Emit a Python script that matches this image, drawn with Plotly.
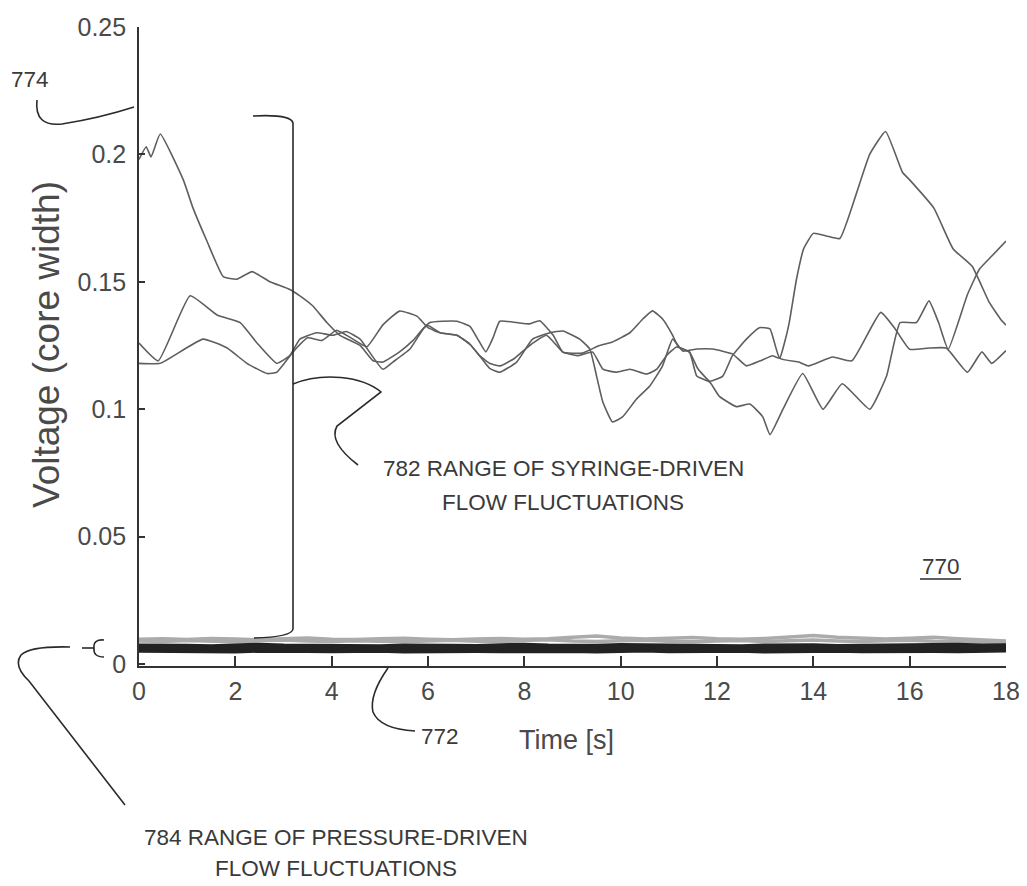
import plotly.graph_objects as go

# ---------------- data ----------------
# syringe-driven flow, three runs (time s, voltage)
a_t = [0, 0.15, 0.25, 0.44, 0.92, 1.12, 1.41, 1.75, 2.03, 2.35, 2.72, 3.13, 3.34, 3.61, 3.9, 4.17, 4.59, 4.86, 5.06,
       5.41, 5.69, 5.98, 6.25, 6.6, 6.87, 7.07, 7.28, 7.49, 7.84, 8.17, 8.53, 8.8, 9.15, 9.36, 9.5, 9.63, 9.83, 10.04,
       10.33, 10.6, 10.87, 11.08, 11.29, 11.58, 11.91, 12.32, 12.61, 12.9, 13.15, 13.3, 13.4, 13.5, 13.65, 13.8, 14.0,
       14.27, 14.55, 14.9, 15.17, 15.5, 15.85, 16.0, 16.5, 16.9, 17.3, 17.65, 17.9, 18.0]
a_v = [0.198, 0.203, 0.199, 0.208, 0.190, 0.179, 0.166, 0.152, 0.151, 0.154, 0.150, 0.147, 0.1445, 0.1405, 0.134,
       0.129, 0.125, 0.119, 0.1185, 0.1225, 0.127, 0.133, 0.130, 0.129, 0.1255, 0.121, 0.116, 0.1145, 0.1185, 0.1275,
       0.130, 0.1307, 0.1275, 0.1236, 0.113, 0.1028, 0.095, 0.097, 0.104, 0.109, 0.117, 0.1275, 0.1228, 0.1236,
       0.1236, 0.1217, 0.117, 0.119, 0.121, 0.120, 0.126, 0.134, 0.151, 0.163, 0.169, 0.168, 0.167, 0.185, 0.200,
       0.209, 0.193, 0.190, 0.179, 0.163, 0.156, 0.142, 0.135, 0.133]

b_t = [0, 0.4, 1.06, 1.62, 2.1, 2.45, 2.86, 3.13, 3.34, 3.69, 4.03, 4.3, 4.59, 5.06, 5.27, 5.62, 5.9, 6.04, 6.3, 6.6,
       6.87, 7.05, 7.2, 7.35, 7.49, 7.84, 8.11, 8.32, 8.6, 8.8, 9.2, 9.56, 9.83, 10.19, 10.46, 10.66, 10.87, 11.08,
       11.2, 11.43, 11.6, 11.85, 12.12, 12.32, 12.61, 12.88, 13.1, 13.3, 13.7, 13.9, 14.4, 14.8, 15.4, 15.7, 16.0,
       16.4, 16.76, 17.2, 17.5, 17.7, 18.0]
b_v = [0.126, 0.119, 0.1445, 0.137, 0.134, 0.126, 0.118, 0.121, 0.1275, 0.130, 0.129, 0.1305, 0.1275, 0.1157,
       0.1185, 0.1235, 0.1315, 0.134, 0.1345, 0.1345, 0.1325, 0.127, 0.1225, 0.128, 0.1345, 0.134, 0.1335, 0.1347,
       0.129, 0.1224, 0.122, 0.125, 0.1264, 0.130, 0.1354, 0.1386, 0.1354, 0.129, 0.1244, 0.1224, 0.116, 0.111,
       0.113, 0.121, 0.1275, 0.132, 0.1315, 0.120, 0.1185, 0.117, 0.1205, 0.119, 0.138, 0.1315, 0.1235, 0.124,
       0.124, 0.1145, 0.1225, 0.118, 0.123]

c_t = [0, 0.44, 1.33, 1.83, 2.24, 2.66, 2.86, 3.2, 3.5, 3.8, 4.1, 4.4, 4.73, 5.06, 5.41, 5.77, 6.0, 6.25, 6.6, 6.87,
       7.07, 7.28, 7.5, 7.8, 8.11, 8.46, 8.8, 9.1, 9.42, 9.63, 9.91, 10.19, 10.54, 10.75, 10.95, 11.16, 11.43, 11.58,
       11.85, 12.05, 12.4, 12.68, 12.95, 13.1, 13.37, 13.78, 14.2, 14.6, 15.17, 15.52, 15.8, 16.14, 16.4, 16.6, 16.8,
       17.2, 17.45, 17.7, 18.0]
c_v = [0.118, 0.118, 0.1275, 0.124, 0.118, 0.114, 0.1145, 0.1225, 0.128, 0.127, 0.131, 0.128, 0.1245, 0.133,
       0.1385, 0.1365, 0.132, 0.130, 0.129, 0.1255, 0.121, 0.118, 0.117, 0.120, 0.125, 0.129, 0.1224, 0.121, 0.1224,
       0.1157, 0.1145, 0.1157, 0.1138, 0.1157, 0.121, 0.1244, 0.1224, 0.113, 0.1106, 0.105, 0.101, 0.102, 0.097,
       0.090, 0.100, 0.114, 0.100, 0.110, 0.100, 0.113, 0.134, 0.134, 0.1425, 0.134, 0.1235, 0.145, 0.155, 0.160,
       0.166]

# pressure-driven flow runs
p_t = [0, 0.5, 1, 1.5, 2, 2.5, 3, 3.5, 4, 4.5, 5, 5.5, 6, 6.5, 7, 7.5, 8, 8.5, 9, 9.5, 10, 10.5, 11, 11.5, 12, 12.5,
       13, 13.5, 14, 14.5, 15, 15.5, 16, 16.5, 17, 17.5, 18]
p_dark1 = [0.0056, 0.0054, 0.0057, 0.0055, 0.0053, 0.0056, 0.0058, 0.0055, 0.0054, 0.0057, 0.0056, 0.0053, 0.0055,
           0.0057, 0.0055, 0.0054, 0.0056, 0.0058, 0.0055, 0.0053, 0.0056, 0.0057, 0.0054, 0.0055, 0.0057, 0.0056,
           0.0053, 0.0055, 0.0058, 0.0056, 0.0054, 0.0056, 0.0057, 0.0055, 0.0054, 0.0056, 0.0057]
p_dark2 = [0.0069, 0.0071, 0.0068, 0.0066, 0.0070, 0.0072, 0.0069, 0.0067, 0.0070, 0.0068, 0.0066, 0.0069, 0.0071,
           0.0068, 0.0067, 0.0070, 0.0072, 0.0069, 0.0066, 0.0068, 0.0071, 0.0069, 0.0067, 0.0070, 0.0068, 0.0066,
           0.0069, 0.0072, 0.0070, 0.0067, 0.0069, 0.0071, 0.0068, 0.0070, 0.0072, 0.0069, 0.0070]
p_light1 = [0.0090, 0.0088, 0.0092, 0.0089, 0.0087, 0.0091, 0.0094, 0.0090, 0.0088, 0.0091, 0.0089, 0.0087, 0.0090,
            0.0093, 0.0089, 0.0088, 0.0092, 0.0095, 0.0090, 0.0088, 0.0091, 0.0093, 0.0089, 0.0087, 0.0090, 0.0092,
            0.0088, 0.0091, 0.0094, 0.0090, 0.0088, 0.0091, 0.0093, 0.0089, 0.0087, 0.0086, 0.0085]
p_light2 = [0.0097, 0.0099, 0.0096, 0.0100, 0.0098, 0.0095, 0.0099, 0.0102, 0.0097, 0.0096, 0.0099, 0.0101, 0.0097,
            0.0095, 0.0098, 0.0100, 0.0097, 0.0099, 0.0105, 0.0110, 0.0102, 0.0098, 0.0101, 0.0104, 0.0099, 0.0097,
            0.0100, 0.0106, 0.0112, 0.0105, 0.0100, 0.0098, 0.0101, 0.0105, 0.0099, 0.0094, 0.0090]

x_ticks = [0, 2, 4, 6, 8, 10, 12, 14, 16, 18]
y_ticks = [0, 0.05, 0.1, 0.15, 0.2, 0.25]
y_ticktext = ["0", "0.05", "0.1", "0.15", "0.2", "0.25"]

# ---------------- layout helpers ----------------
OFF = 8                       # page body margin in the browser
W, H = 1027 - OFF, 886 - OFF  # figure size
# screen-pixel plot area: x 139..1006, y 27..666
L, R, T, B = 139 - OFF, 1027 - 1006, 27 - OFF, 886 - 666
PW, PH = W - L - R, H - T - B
FONT = "Liberation Sans, Arial, sans-serif"


def fx(x):  # screen px -> paper
    return (x - OFF - L) / PW


def fy(y):
    return (H - B - (y - OFF)) / PH


def path(*segs):
    out = []
    for s in segs:
        cmd, pts = s[0], s[1:]
        out.append(cmd + " " + " ".join(f"{fx(p[0]):.5f},{fy(p[1]):.5f}" for p in pts))
    return " ".join(out)


fig = go.Figure()

for yv in (p_light2, p_light1):
    fig.add_trace(go.Scatter(x=p_t, y=yv, mode="lines", line=dict(color="#ababab", width=3.5),
                             showlegend=False, hoverinfo="skip"))
for yv in (p_dark1, p_dark2):
    fig.add_trace(go.Scatter(x=p_t, y=yv, mode="lines", line=dict(color="#222222", width=6),
                             showlegend=False, hoverinfo="skip"))

for tt, vv in ((a_t, a_v), (b_t, b_v), (c_t, c_v)):
    fig.add_trace(go.Scatter(x=tt, y=vv, mode="lines", line=dict(color="#5e5e5e", width=1.6, shape="spline",
                                                                   smoothing=0.4),
                             showlegend=False, hoverinfo="skip"))

line_style = dict(color="#2a2a2a", width=1.6)
shapes = [
    # 774 bracket
    dict(type="path", path=path(("M", (253, 116)), ("Q", (291, 114), (293, 123)), ("L", (293, 629)),
                                ("Q", (292, 637), (254, 638)))),
    # 774 leader
    dict(type="path", path=path(("M", (37, 100)), ("Q", (34, 127), (62, 124)), ("Q", (100, 118), (134, 107)))),
    # 782 leader
    dict(type="path", path=path(("M", (293, 384)), ("C", (322, 372), (362, 376), (381, 392)),
                                ("L", (337, 426)), ("Q", (328, 442), (358, 465)))),
    # pressure range brace
    dict(type="path", path=path(("M", (104, 640)), ("Q", (93, 639), (94, 648)), ("Q", (93, 657), (104, 657)))),
    dict(type="path", path=path(("M", (82, 648)), ("L", (94, 648)))),
    # 784 leader
    dict(type="path", path=path(("M", (70, 647)), ("Q", (30, 646), (21, 655)), ("Q", (13, 666), (29, 681)),
                                ("L", (125, 805)))),
    # 772 leader
    dict(type="path", path=path(("M", (388, 668)), ("Q", (369, 695), (373, 712)), ("Q", (380, 729), (415, 731)))),
    # 770 underline
    dict(type="path", path=path(("M", (920, 579)), ("L", (961, 579)))),
]
for s in shapes:
    s.update(xref="paper", yref="paper", line=line_style, layer="above")

txt = dict(color="#3a3a3a", family=FONT, size=22.5)


def ann(text, x, y, xanchor="center", font=None, angle=0):
    return dict(text=text, x=fx(x), y=fy(y), xref="paper", yref="paper", showarrow=False,
                xanchor=xanchor, yanchor="middle", font=font or txt, textangle=angle)


annotations = [
    ann("774", 30, 80),
    ann("782 RANGE OF SYRINGE-DRIVEN", 563, 468),
    ann("FLOW FLUCTUATIONS", 563, 502),
    ann("770", 941, 566),
    ann("772", 440, 736),
    ann("784 RANGE OF PRESSURE-DRIVEN", 336, 838),
    ann("FLOW FLUCTUATIONS", 336, 868),
    ann("Time [s]", 566, 740, font=dict(color="#4a4a4a", family=FONT, size=27)),
    ann("Voltage (core width)", 46, 345, font=dict(color="#4a4a4a", family=FONT, size=37), angle=-90),
]

tickfont = dict(color="#4a4a4a", family=FONT, size=25)
fig.update_layout(
    width=W, height=H,
    margin=dict(l=L, r=R, t=T, b=B, pad=0, autoexpand=False),
    paper_bgcolor="white", plot_bgcolor="white",
    showlegend=False,
    shapes=shapes,
    annotations=annotations,
    xaxis=dict(range=[0, 18], tickvals=x_ticks, ticks="inside", ticklen=10, tickwidth=1.5, tickcolor="#333",
               showline=True, linecolor="#333", linewidth=1.6, showgrid=False, zeroline=False,
               tickfont=tickfont, ticklabelstandoff=2, automargin=False),
    yaxis=dict(range=[-0.00079, 0.25], tickvals=y_ticks, ticktext=y_ticktext, ticks="inside", ticklen=6,
               tickwidth=1.5, tickcolor="#333", showline=True, linecolor="#333", linewidth=1.6,
               showgrid=False, zeroline=False, tickfont=tickfont, ticklabelstandoff=6, automargin=False),
)

fig.write_html("out.html")
